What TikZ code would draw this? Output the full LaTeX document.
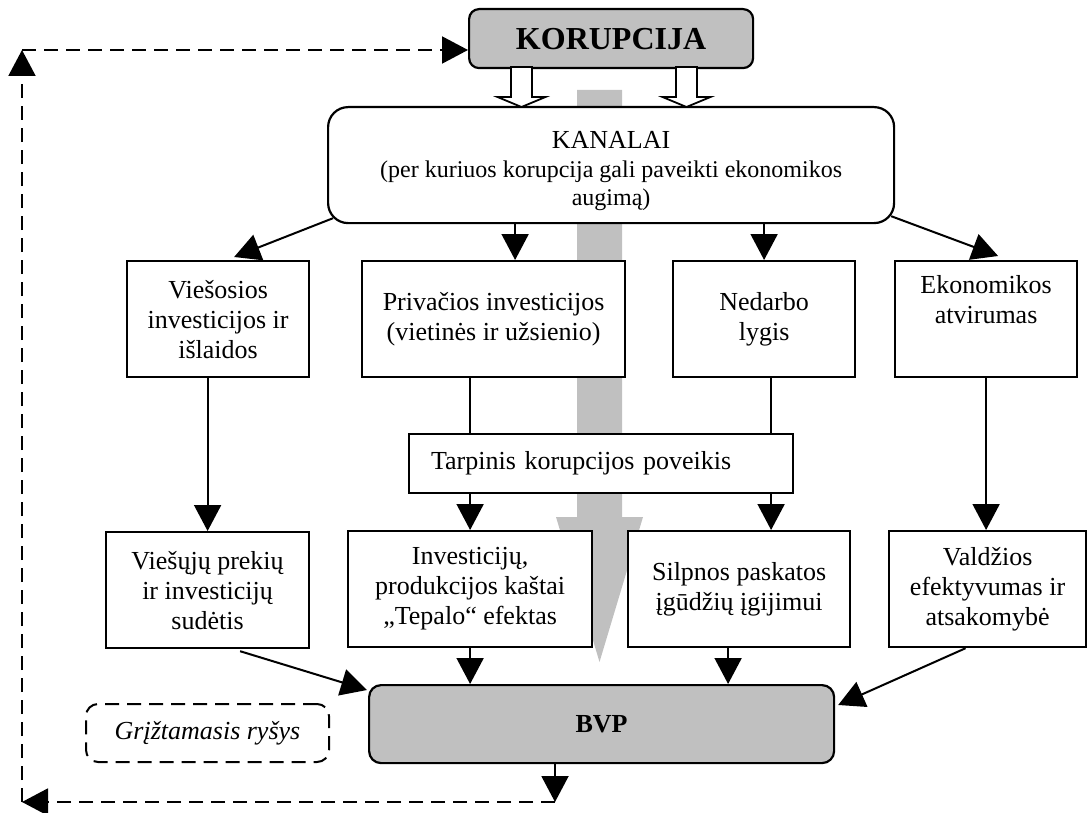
\documentclass[tikz,border=0pt]{standalone}
\usepackage{fontspec}
\setmainfont{Liberation Serif}
\usetikzlibrary{arrows.meta,calc}
\definecolor{boxgray}{RGB}{192,192,192}
\begin{document}
\begin{tikzpicture}[x=0.5pt,y=-0.5pt,
  box/.style={draw, line width=1.1pt, fill=white, inner sep=0pt, align=center, anchor=north west,
              font=\fontsize{13pt}{15pt}\selectfont},
  arr/.style={line width=1pt, -{Triangle[length=13pt,width=13.5pt]}},
  ln/.style={line width=1pt},
  fb/.style={dash pattern=on 7pt off 4pt},
  hol/.style={draw, line width=0.9pt, fill=white, line join=miter}
]
\useasboundingbox (0,0) rectangle (1087,813);

% big grey background arrow
\fill[boxgray] (577,90) -- (622,90) -- (622,517) -- (643,517) -- (599.5,662) -- (556,517) -- (577,517) -- cycle;

% nodes
\node[box, fill=boxgray, rounded corners=5pt, minimum width=142pt, minimum height=29.5pt,
      font=\bfseries\fontsize{16pt}{19pt}\selectfont] (kor) at (468,8) {KORUPCIJA};
\node[box, rounded corners=10pt, minimum width=283pt, minimum height=58pt] (kan) at (327,106) {};
\node[align=center, inner sep=0pt, font=\fontsize{12pt}{14.3pt}\selectfont] (kantxt) at ([yshift=-3pt]kan.center)
  {{\fontsize{13pt}{15pt}\selectfont KANALAI}\\(per kuriuos korupcija gali paveikti ekonomikos\\augimą)};

\node[box, minimum width=91pt, minimum height=58pt] (r1a) at (126,260) {Viešosios\\investicijos ir\\išlaidos};
\node[box, minimum width=131.5pt, minimum height=58pt] (r1b) at (361,260) {Privačios investicijos\\(vietinės ir užsienio)};
\node[box, minimum width=91pt, minimum height=58pt] (r1c) at (672,260) {Nedarbo\\lygis};
\node[box, minimum width=91pt, minimum height=58pt] (r1d) at (894,260) {Ekonomikos\\atvirumas\\\strut};

\node[box, minimum width=192pt, minimum height=29.5pt, text width=170pt, align=left, inner xsep=11pt]
      (tar) at (408,433) {Tarpinis korupcijos poveikis};

\node[box, minimum width=101.5pt, minimum height=58pt] (r2a) at (105,531) {Viešųjų prekių\\ir investicijų\\sudėtis};
\node[box, minimum width=122pt, minimum height=58pt] (r2b) at (347,530) {Investicijų,\\produkcijos kaštai\\„Tepalo“ efektas};
\node[box, minimum width=111pt, minimum height=58pt] (r2c) at (627,530) {Silpnos paskatos\\įgūdžių įgijimui};
\node[box, minimum width=98.5pt, minimum height=58pt] (r2d) at (888,530) {Valdžios\\efektyvumas ir\\atsakomybė};

\node[box, fill=boxgray, rounded corners=6pt, minimum width=232.5pt, minimum height=39pt,
      font=\bfseries\fontsize{13pt}{15pt}\selectfont] (bvp) at (368,684) {BVP};
\node[box, fb, line width=1pt, rounded corners=6pt, minimum width=121.5pt, minimum height=29pt,
      font=\itshape\fontsize{13pt}{15pt}\selectfont] (grz) at (85,703) {Grįžtamasis ryšys};

% hollow block arrows KORUPCIJA -> KANALAI
\foreach \cx in {521.5,686.5}{
  \draw[hol] ({\cx-10.5},67) -- ({\cx+10.5},67) -- ({\cx+10.5},97) -- ({\cx+24},97) -- (\cx,107)
             -- ({\cx-24},97) -- ({\cx-10.5},97) -- cycle;
}

% KANALAI -> row 1
\draw[arr] ([xshift=3pt,yshift=3pt]kan.south west) -- ([xshift=8pt,yshift=1.5pt]r1a.north);
\draw[arr] ([xshift=-48pt]kan.south) -- ([xshift=10.75pt]r1b.north);
\draw[arr] ([xshift=76.5pt]kan.south) -- (r1c.north);
\draw[arr] ([xshift=-2pt,yshift=4pt]kan.south east) -- ([xshift=6pt,yshift=2pt]r1d.north);

% row 1 -> row 2
\draw[arr] (r1a.south -| r2a.north) -- (r2a.north);
\draw[ln] (r1b.south -| r2b.north) -- (tar.north -| r2b.north);
\draw[arr] (tar.south -| r2b.north) -- (r2b.north);
\coordinate (nd) at ([xshift=3.5pt]r1c.south);
\draw[ln] (nd) -- (nd |- tar.north);
\draw[arr] (nd |- tar.south) -- (nd |- r2c.north);
\draw[arr] (r1d.south) -- (r1d.south |- r2d.north);

% row 2 -> BVP
\draw[arr] ([xshift=16.25pt,yshift=-1pt]r2a.south) -- ([xshift=-0.5pt,yshift=-3pt]bvp.north west);
\draw[arr] (r2b.south) -- (r2b.south |- bvp.north);
\coordinate (sp) at ([xshift=-5.5pt]r2c.south);
\draw[arr] (sp) -- (sp |- bvp.north);
\draw[arr] ([xshift=-11pt]r2d.south) -- ([xshift=1.5pt,yshift=-10.5pt]bvp.north east);

% feedback loop
\coordinate (fbR) at (555,802);
\coordinate (fbL) at (22,802);
\coordinate (fbT) at (22,50);
\draw[arr, fb] (fbR |- bvp.south) -- (fbR);
\draw[arr, fb] (fbR) -- (fbL);
\draw[arr, fb] (fbL) -- (fbT);
\draw[arr, fb] (fbT) -- (fbT -| kor.west);
\end{tikzpicture}
\end{document}
